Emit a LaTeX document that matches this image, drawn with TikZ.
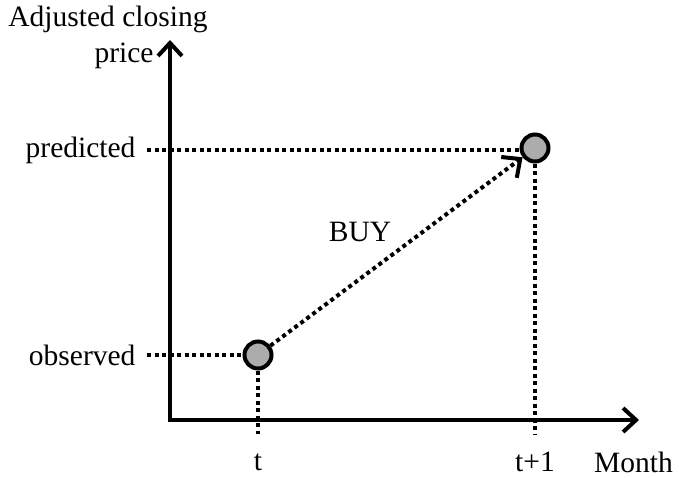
\documentclass[tikz,border=0pt]{standalone}
\usepackage{fontspec}
\setmainfont{Liberation Serif}
\usetikzlibrary{arrows.meta, positioning}

\begin{document}
\begin{tikzpicture}[x=1pt, y=-1pt, font=\fontsize{29.5}{34}\selectfont,
    axis/.style={line width=4pt, -{Straight Barb[length=13pt, width=24pt, line width=4pt]}},
    dots/.style={line width=4pt, dash pattern=on 4pt off 3.5pt},
    pt/.style={circle, draw, line width=4pt, fill=gray!65, minimum size=27pt, inner sep=0pt}]
    \useasboundingbox (0,0) rectangle (679,477);

    % axes
    \coordinate (origin) at (168,420);
    \coordinate (ytop) at (170,40);
    \coordinate (xend) at (639,420);
    \draw[axis] (170,422) -- (ytop);
    \draw[axis] (origin) -- (xend);

    % points
    \node[pt] (obs) at (258,355) {};
    \node[pt] (pred) at (535,148) {};

    % labels
    \node[anchor=east] (lobs) at (139,355) {observed};
    \node[anchor=east] (lpred) at (139,150) {predicted};
    \node (ly1) at (108,19) {Adjusted closing};
    \node (ly2) at (124,56) {price};
    \node (lt) at (258,462) {t};
    \node (lt1) at (535,462) {t+1};
    \node[anchor=east, inner sep=0pt] (lx) at (673,462) {Month};
    \node (buy) at (360,232) {BUY};

    % guides
    \coordinate (gobs) at (147,355);
    \coordinate (gpred) at (147,150);
    \coordinate (bt) at (258,434);
    \coordinate (bt1) at (535,434);
    \draw[dots] (gobs) -- (obs.west);
    \draw[dots] (gpred) -- (pred.west |- gpred);
    \draw[dots] (obs.south) -- (bt);
    \draw[dots] (pred.south) -- (bt1);

    \draw[dots, -{Straight Barb[length=14pt, width=26pt, line width=4pt]}] (obs) -- (pred);
\end{tikzpicture}
\end{document}
